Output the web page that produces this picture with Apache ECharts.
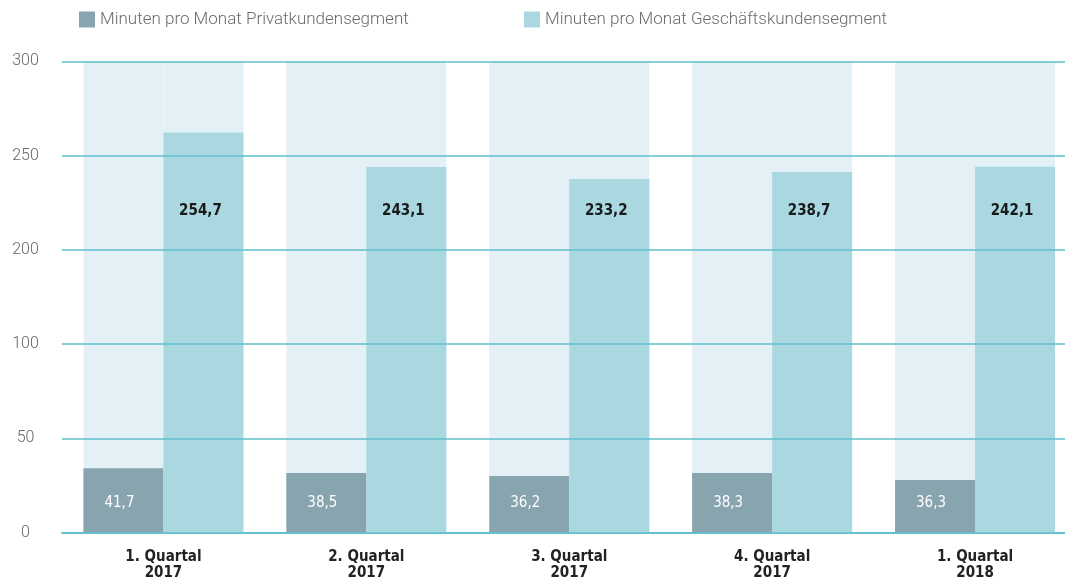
<!DOCTYPE html>
<html>
<head>
<meta charset="utf-8">
<script src="https://cdn.jsdelivr.net/npm/echarts@6/dist/echarts.min.js"></script>
<style>
  html, body { margin: 0; padding: 0; background: #fff; }
  #chart { width: 1065px; height: 581px; }
</style>
</head>
<body>
<div id="chart"></div>
<script>
// Quartale
var quarters = ['1. Quartal\n2017', '2. Quartal\n2017', '3. Quartal\n2017', '4. Quartal\n2017', '1. Quartal\n2018'];

var privatMinuten = [34.2, 31.7, 30.1, 31.7, 27.9];
var geschaeftMinuten = [262.2, 244.0, 237.6, 241.3, 244.1];

// Beschriftungen in den Balken
var privatLabels = ['41,7', '38,5', '36,2', '38,3', '36,3'];
var geschaeftLabels = ['254,7', '243,1', '233,2', '238,7', '242,1'];

// y-Achse: 0..300, Bruch zwischen 100 und 200
var yMin = 0, yMax = 300, yStep = 50;
var yBreak = [100, 200];
var gridValues = [0, 50, 100, 200, 250, 300];

var NAME_PRIVAT = 'Minuten pro Monat Privatkundensegment';
var NAME_GESCH = 'Minuten pro Monat Geschäftskundensegment';

var narrow = '"Liberation Sans Narrow", "DejaVu Sans Condensed", sans-serif';
var light = 'Roboto, "Noto Sans", sans-serif';

var legendText = { color: '#6b6b6b', fontSize: 17, fontFamily: light, fontWeight: 300 };

var myChart = echarts.init(document.getElementById('chart'));

var option = {
    animation: false,
    legend: [
        { data: [NAME_PRIVAT], left: 79, top: 11, padding: 0, icon: 'rect',
          itemWidth: 16, itemHeight: 16, textStyle: legendText },
        { data: [NAME_GESCH], left: 524, top: 11, padding: 0, icon: 'rect',
          itemWidth: 16, itemHeight: 16, textStyle: legendText }
    ],
    grid: { left: 62, right: -11.5, top: 61.3, bottom: 48.3, containLabel: false, outerBoundsMode: 'none' },
    xAxis: {
        type: 'category',
        data: quarters,
        axisLine: { show: true, lineStyle: { color: '#6cc4cf', width: 2 } },
        axisTick: { show: false },
        axisLabel: { margin: 16, color: '#222', fontFamily: narrow, fontWeight: 'bold',
                     fontSize: 15, lineHeight: 16 }
    },
    yAxis: {
        type: 'value',
        min: yMin, max: yMax, interval: yStep,
        breaks: [{ start: yBreak[0], end: yBreak[1], gap: yStep }],
        breakArea: { show: false, itemStyle: { opacity: 0 } },
        axisLine: { show: false },
        axisTick: { show: false },
        axisLabel: { align: 'center', margin: 36.5, color: '#666', fontSize: 16, fontFamily: light, fontWeight: 300 },
        splitLine: { show: false }
    },
    series: [
        {
            name: NAME_PRIVAT,
            type: 'bar',
            data: privatMinuten,
            barWidth: 80,
            barGap: '0%',
            itemStyle: { color: '#88a4af' },
            showBackground: true,
            backgroundStyle: { color: '#e3f0f5' },
            label: {
                show: true, position: 'insideBottom', distance: 22, offset: [-4, 0],
                color: '#fff', fontFamily: narrow, fontSize: 15,
                formatter: function (p) { return privatLabels[p.dataIndex]; }
            }
        },
        {
            name: NAME_GESCH,
            type: 'bar',
            data: geschaeftMinuten,
            barWidth: 80,
            barGap: '0%',
            itemStyle: { color: '#aad8e0' },
            showBackground: true,
            backgroundStyle: { color: '#e3f0f5' },
            label: {
                show: true, position: 'insideBottom', distance: 314, offset: [-3, 0],
                color: '#1a1a1a', fontFamily: narrow, fontSize: 15, fontWeight: 'bold',
                formatter: function (p) { return geschaeftLabels[p.dataIndex]; }
            },
            // Rasterlinien über den Balken
            markLine: {
                silent: true,
                symbol: 'none',
                label: { show: false },
                lineStyle: { color: '#5fbfcc', width: 1.5, type: 'solid' },
                data: gridValues.map(function (v) { return { yAxis: v }; })
            }
        }
    ]
};

myChart.setOption(option);
</script>
</body>
</html>
